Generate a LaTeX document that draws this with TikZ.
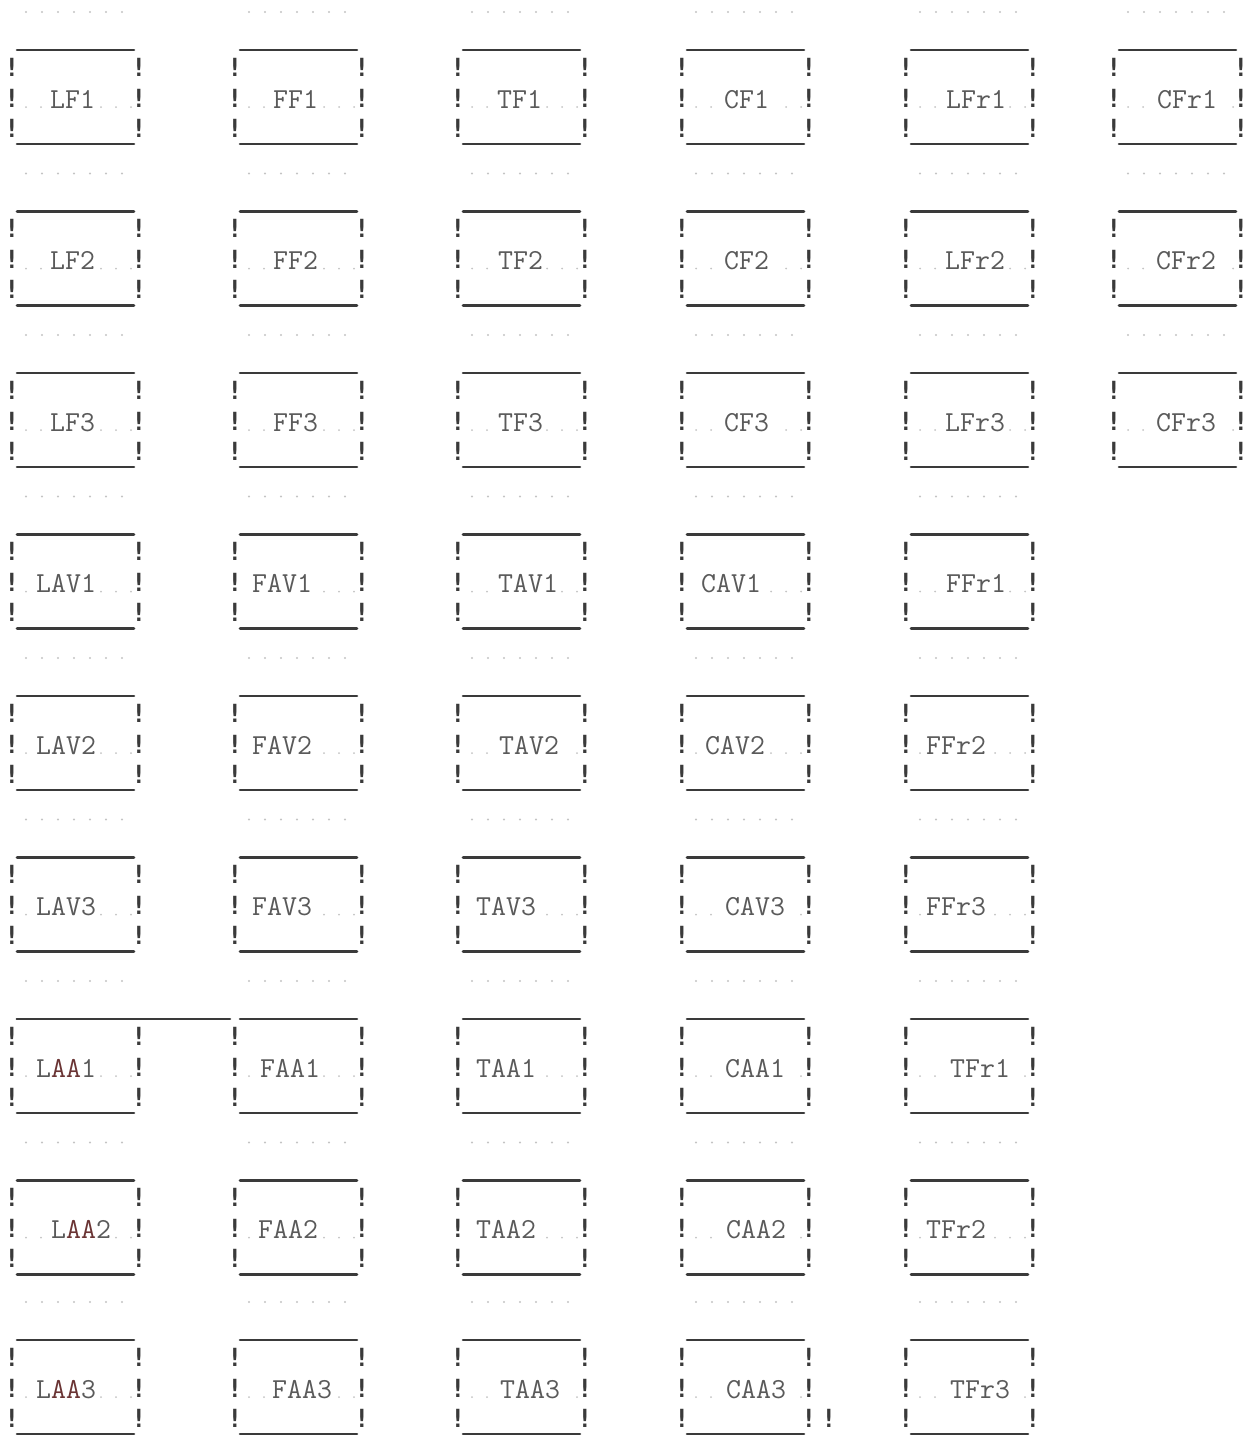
\documentclass[tikz,border=0pt]{standalone}
\usepackage{fontspec}
\newfontfamily\bangfont{DejaVu Sans Mono}
\definecolor{ink}{HTML}{3A3A3A}
\definecolor{labc}{HTML}{5A5A5A}
\definecolor{dotc}{HTML}{C4C4C4}
\definecolor{over}{HTML}{6A3434}
\tikzset{
  hl/.style={line width=2.6pt, draw=ink, line cap=round},
  bang/.style={inner sep=0pt, anchor=center, text=ink, font=\bangfont\bfseries\fontsize{25}{25}\selectfont},
  lab/.style={inner sep=0pt, anchor=base west, text=labc, font=\ttfamily\fontsize{29}{29}\selectfont},
  tdot/.style={fill=dotc, draw=none}
}
% #1 name, #2 L, #3 T, #4 label, #5 label start x, #6 number of characters
\newcommand\tbox[6]{%
  \draw[hl] (#2+5,#3) -- (#2+122,#3);
  \draw[hl] (#2+5,#3+94) -- (#2+122,#3+94);
  \foreach \dy [count=\i] in {17,48,78} {
    \node[bang] (#1-l\i) at (#2,#3+\dy) {!};
    \node[bang] (#1-r\i) at (#2+127,#3+\dy) {!};
  }
  \node[lab] (#1) at (#5,#3+58) {#4};
  \foreach \k in {0,...,7} {
    \pgfmathsetmacro\dx{#2+14+15*\k}
    \pgfmathparse{((\dx<#5-5)||(\dx>#5+15.2*#6+3))?1:0}
    \ifdim\pgfmathresult pt>0.5pt \fill[tdot] (\dx,#3+57) circle (1.0); \fi
  }
}
% dotted separator line: #1 L, #2 y
\newcommand\sepdots[2]{%
  \foreach \k in {0,...,6} { \fill[tdot] (#1+14+16*\k,#2) circle (1.1); }
}
\begin{document}
\begin{tikzpicture}[x=1pt,y=-1pt]
\useasboundingbox[fill=white] (0,0) rectangle (1256,1438);
% separators
\foreach \T in {50,211.5,373,534.5,696,857.5,1019,1180.5,1340} {
  \foreach \L in {12,235,458,682,906} { \sepdots{\L}{\T-38} }
}
\foreach \T in {50,211.5,373} { \sepdots{1114}{\T-38} }
% row 1
\tbox{LF1}{12}{50}{LF1}{50}{3}
\tbox{FF1}{235}{50}{FF1}{273}{3}
\tbox{TF1}{458}{50}{TF1}{497}{3}
\tbox{CF1}{682}{50}{CF1}{724}{3}
\tbox{LFr1}{906}{50}{LFr1}{946}{4}
\tbox{CFr1}{1114}{50}{CFr1}{1157}{4}
% row 2
\tbox{LF2}{12}{211.5}{LF2}{50}{3}
\tbox{FF2}{235}{211.5}{FF2}{273}{3}
\tbox{TF2}{458}{211.5}{TF2}{498}{3}
\tbox{CF2}{682}{211.5}{CF2}{724}{3}
\tbox{LFr2}{906}{211.5}{LFr2}{945}{4}
\tbox{CFr2}{1114}{211.5}{CFr2}{1156}{4}
% row 3
\tbox{LF3}{12}{373}{LF3}{50}{3}
\tbox{FF3}{235}{373}{FF3}{273}{3}
\tbox{TF3}{458}{373}{TF3}{498}{3}
\tbox{CF3}{682}{373}{CF3}{724}{3}
\tbox{LFr3}{906}{373}{LFr3}{945}{4}
\tbox{CFr3}{1114}{373}{CFr3}{1156}{4}
% row 4
\tbox{LAV1}{12}{534.5}{LAV1}{36}{4}
\tbox{FAV1}{235}{534.5}{FAV1}{252}{4}
\tbox{TAV1}{458}{534.5}{TAV1}{498}{4}
\tbox{CAV1}{682}{534.5}{CAV1}{701}{4}
\tbox{FFr1}{906}{534.5}{FFr1}{946}{4}
% row 5
\tbox{LAV2}{12}{696}{LAV2}{36}{4}
\tbox{FAV2}{235}{696}{FAV2}{252}{4}
\tbox{TAV2}{458}{696}{TAV2}{499}{4}
\tbox{CAV2}{682}{696}{CAV2}{705}{4}
\tbox{FFr2}{906}{696}{FFr2}{926}{4}
% row 6
\tbox{LAV3}{12}{857.5}{LAV3}{36}{4}
\tbox{FAV3}{235}{857.5}{FAV3}{252}{4}
\tbox{TAV3}{458}{857.5}{TAV3}{476}{4}
\tbox{CAV3}{682}{857.5}{CAV3}{725}{4}
\tbox{FFr3}{906}{857.5}{FFr3}{926}{4}
% row 7
\draw[hl] (17,1019) -- (230,1019);
\tbox{LAA1}{12}{1019}{L{\color{over}AA}1}{36}{4}
\tbox{FAA1}{235}{1019}{FAA1}{260}{4}
\tbox{TAA1}{458}{1019}{TAA1}{476}{4}
\tbox{CAA1}{682}{1019}{CAA1}{725}{4}
\tbox{TFr1}{906}{1019}{TFr1}{950}{4}
% row 8
\tbox{LAA2}{12}{1180.5}{L{\color{over}AA}2}{51}{4}
\tbox{FAA2}{235}{1180.5}{FAA2}{258}{4}
\tbox{TAA2}{458}{1180.5}{TAA2}{476}{4}
\tbox{CAA2}{682}{1180.5}{CAA2}{726}{4}
\tbox{TFr2}{906}{1180.5}{TFr2}{926}{4}
% row 9
\tbox{LAA3}{12}{1340}{L{\color{over}AA}3}{36}{4}
\tbox{FAA3}{235}{1340}{FAA3}{272}{4}
\tbox{TAA3}{458}{1340}{TAA3}{500}{4}
\tbox{CAA3}{682}{1340}{CAA3}{726}{4}
\tbox{TFr3}{906}{1340}{TFr3}{950}{4}
\node[bang] (CAA3-x) at (829,1418) {!};
\end{tikzpicture}
\end{document}
